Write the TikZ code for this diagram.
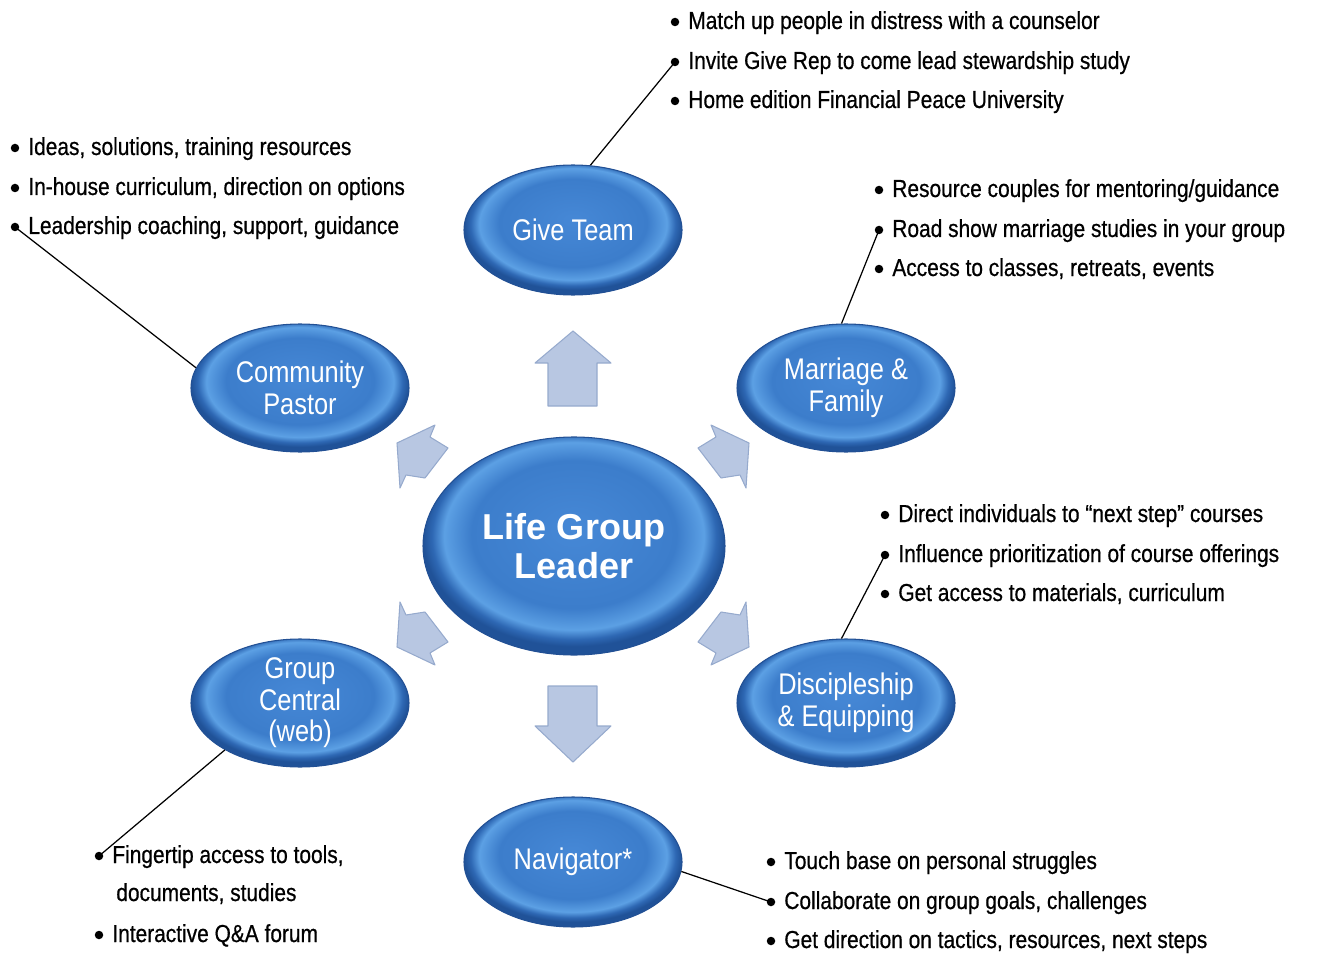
\documentclass[tikz,border=0pt]{standalone}
\usepackage{fontspec}
\setmainfont{Liberation Sans}
\newfontfamily\bulfont[FakeStretch=0.85,FakeBold=0.6]{Liberation Sans}
\newfontfamily\orbfont[FakeStretch=0.85]{Liberation Sans}
\usetikzlibrary{shapes.geometric}
\definecolor{orbA}{RGB}{70,136,214}
\definecolor{orbB}{RGB}{60,125,203}
\definecolor{orbC}{RGB}{92,160,228}
\definecolor{orbD}{RGB}{46,104,180}
\definecolor{orbE}{RGB}{32,82,152}
\definecolor{orbEdge}{RGB}{34,80,148}
\definecolor{arrFill}{RGB}{184,199,226}
\definecolor{arrEdge}{RGB}{150,170,205}
\pgfdeclareradialshading{orbshade}{\pgfpoint{0bp}{4bp}}{%
  color(0bp)=(orbA); color(17bp)=(orbB); color(21.5bp)=(orbC);
  color(23.5bp)=(orbD); color(25bp)=(orbE); color(50bp)=(orbE)}
\tikzset{
  orb/.style={ellipse, shading=orbshade, draw=orbEdge, line width=0.6pt,
    inner sep=0pt, text=white, align=center,
    font=\orbfont\fontsize{17}{18}\selectfont},
  orbbig/.style={orb, font=\bfseries\fontsize{20.5}{22}\selectfont},
  bul/.style={circle, fill=black, inner sep=0pt, minimum size=0.17cm},
  txt/.style={anchor=base west, inner sep=0pt,
    font=\bulfont\fontsize{14}{17}\selectfont},
  conn/.style={line width=0.7pt, black},
  bigarrow/.style={fill=arrFill, draw=arrEdge, line width=0.6pt, line join=round}
}
\begin{document}
\begin{tikzpicture}[x=0.02cm, y=-0.02cm]
\useasboundingbox (0,0) rectangle (1319,956);

% block arrows
\draw[bigarrow] (573,331) -- (535,363) -- (548,363) -- (548,406) -- (597,406) -- (597,363) -- (611,363) -- cycle;
\draw[bigarrow] (548,686) -- (597,686) -- (597,726) -- (611,726) -- (573,762) -- (535,726) -- (548,726) -- cycle;
\draw[bigarrow] (397,443) -- (435,425) -- (430,437) -- (448,448) -- (425,478) -- (406,475) -- (400,488) -- cycle;
\draw[bigarrow] (749,443) -- (711,425) -- (716,437) -- (698,448) -- (721,478) -- (740,475) -- (746,488) -- cycle;
\draw[bigarrow] (397,647) -- (435,665) -- (430,653) -- (448,642) -- (425,612) -- (406,615) -- (400,602) -- cycle;
\draw[bigarrow] (749,647) -- (711,665) -- (716,653) -- (698,642) -- (721,612) -- (740,615) -- (746,602) -- cycle;

% ellipses
\node[orbbig, minimum width=302*0.02cm, minimum height=218*0.02cm] (lgl) at (574,546) {Life Group\\Leader};
\node[orb, minimum width=218*0.02cm, minimum height=130*0.02cm] (give) at (573,230) {Give Team};
\node[orb, minimum width=218*0.02cm, minimum height=128*0.02cm] (cp) at (300,388) {Community\\Pastor};
\node[orb, minimum width=218*0.02cm, minimum height=128*0.02cm] (mf) at (846,388) {Marriage \&\\Family};
\node[orb, minimum width=218*0.02cm, minimum height=128*0.02cm] (gc) at (300,703) {Group\\Central\\(web)};
\node[orb, minimum width=218*0.02cm, minimum height=128*0.02cm] (de) at (846,703) {Discipleship\\\& Equipping};
\node[orb, minimum width=218*0.02cm, minimum height=130*0.02cm] (nav) at (573,862) {Navigator*};

% Give Team bullets
\node[bul] (g1) at (675,22) {};
\node[bul] (g2) at (675,62) {};
\node[bul] (g3) at (675,101) {};
\node[txt] (g1t) at (688,29) {Match up people in distress with a counselor};
\node[txt] (g2t) at (688,69) {Invite Give Rep to come lead stewardship study};
\node[txt] (g3t) at (688,108) {Home edition Financial Peace University};

% Community Pastor bullets
\node[bul] (c1) at (15,148) {};
\node[bul] (c2) at (15,188) {};
\node[bul] (c3) at (15,227) {};
\node[txt] (c1t) at (28,155) {Ideas, solutions, training resources};
\node[txt] (c2t) at (28,195) {In-house curriculum, direction on options};
\node[txt] (c3t) at (28,234) {Leadership coaching, support, guidance};

% Marriage & Family bullets
\node[bul] (m1) at (879,190) {};
\node[bul] (m2) at (879,230) {};
\node[bul] (m3) at (879,269) {};
\node[txt] (m1t) at (892,197) {Resource couples for mentoring/guidance};
\node[txt] (m2t) at (892,237) {Road show marriage studies in your group};
\node[txt] (m3t) at (892,276) {Access to classes, retreats, events};

% Discipleship bullets
\node[bul] (d1) at (885,515) {};
\node[bul] (d2) at (885,555) {};
\node[bul] (d3) at (885,594) {};
\node[txt] (d1t) at (898,522) {Direct individuals to “next step” courses};
\node[txt] (d2t) at (898,562) {Influence prioritization of course offerings};
\node[txt] (d3t) at (898,601) {Get access to materials, curriculum};

% Navigator bullets
\node[bul] (n1) at (771,862) {};
\node[bul] (n2) at (771,902) {};
\node[bul] (n3) at (771,941) {};
\node[txt] (n1t) at (784,869) {Touch base on personal struggles};
\node[txt] (n2t) at (784,909) {Collaborate on group goals, challenges};
\node[txt] (n3t) at (784,948) {Get direction on tactics, resources, next steps};

% Group Central bullets
\node[bul] (w1) at (99,856) {};
\node[bul] (w2) at (99,935) {};
\node[txt] (w1t) at (112,863) {Fingertip access to tools,};
\node[txt] (w1u) at (116,901) {documents, studies};
\node[txt] (w2t) at (112,942) {Interactive Q\&A forum};

% connectors
\draw[conn] (give.75) -- (g2.center);
\draw[conn] (cp.169) -- (c3.center);
\draw[conn] (mf.94) -- (m2.center);
\draw[conn] (de.94) -- (d2.center);
\draw[conn] (gc.212) -- (w1.center);
\draw[conn] (nav.355) -- (n2.center);
\end{tikzpicture}
\end{document}
